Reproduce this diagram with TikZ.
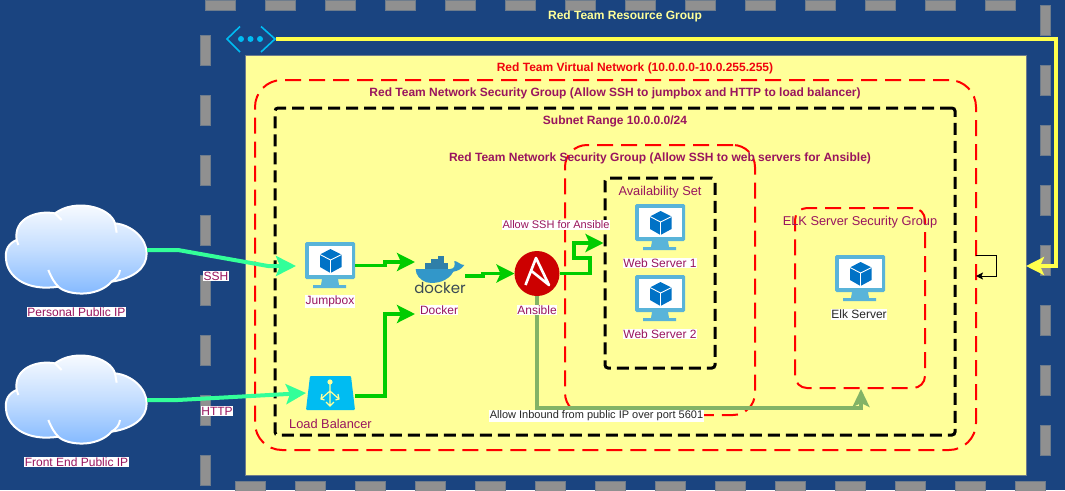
\documentclass[tikz,border=0pt]{standalone}
\usepackage{fontspec}
\setmainfont{Liberation Sans}
\newfontfamily\dockerfont{Poppins}
\usetikzlibrary{arrows.meta}
\definecolor{bgblue}{HTML}{1A4480}
\definecolor{gdash}{HTML}{909090}
\definecolor{gedge}{HTML}{6E7C8C}
\definecolor{paleY}{HTML}{FFFF99}
\definecolor{lineY}{HTML}{FFFF4D}
\definecolor{maroon}{HTML}{99155E}
\definecolor{mint}{HTML}{33FF99}
\definecolor{gr}{HTML}{00CC00}
\definecolor{olive}{HTML}{82B366}
\definecolor{azure}{HTML}{00BCF2}
\definecolor{vmframe}{HTML}{59B4D9}
\definecolor{vmcube}{HTML}{0072C6}
\definecolor{ansred}{HTML}{CC0000}
\definecolor{cloudb}{HTML}{7EB6FF}
\definecolor{whaleA}{HTML}{2F7FA8}
\definecolor{whaleB}{HTML}{3297C9}
\definecolor{dockword}{HTML}{3A4A55}
\tikzset{
  redbox/.style={draw=red,line width=2pt,dash pattern=on 16pt off 8pt,rounded corners=#1,inner sep=0pt,fill=none},
  blackbox/.style={draw=black,line width=3pt,dash pattern=on 12pt off 6pt,rounded corners=3pt,inner sep=0pt,fill=none},
  anchorbox/.style={inner sep=0pt,outer sep=0pt},
  lab/.style={font=\fontsize{12}{14}\selectfont,text=maroon,fill=white,inner xsep=.4pt,inner ysep=1pt},
  plain/.style={font=\fontsize{12.8}{14}\selectfont,text=maroon,inner sep=0pt},
  head/.style={font=\fontsize{12}{14}\selectfont\bfseries,text=maroon,inner sep=0pt},
  mintline/.style={draw=mint,line width=4pt,-{Stealth[length=20pt,width=20pt,inset=4pt]}},
  greenline/.style={draw=gr,line width=3.2pt,-{Stealth[length=18pt,width=18pt,inset=4pt]}},
  oliveline/.style={draw=olive,line width=3.6pt,-{Stealth[length=18pt,width=17pt,inset=4pt]}},
  yellowline/.style={draw=lineY,line width=4pt,-{Stealth[length=18pt,width=18pt,inset=4pt]}},
  loopline/.style={draw=black,line width=1pt,-{Stealth[length=7pt,width=7pt,inset=1.5pt]}},
}
\newcommand{\gapbar}[4]{\fill[gdash,draw=gedge,line width=.6pt] (#1,#2) rectangle (#3,#4);}
\newcommand{\vmicon}[3]{%
 \begin{scope}[shift={(#1,#2)}]
  \node[anchorbox,minimum width=50pt,minimum height=46pt] (#3) at (25,23) {};
  \fill[vmframe,rounded corners=1.5pt] (0,0) rectangle (50,37);
  \fill[white] (3.5,3.5) rectangle (46.5,33);
  \fill[vmframe] (17,37) -- (33,37) -- (34,43) -- (41,43) -- (41,46) -- (8,46) -- (8,43) -- (16,43) -- cycle;
  \fill[vmcube] (25.5,7) -- (36.5,12.5) -- (36.5,25) -- (25.5,31) -- (15,25) -- (15,12.5) -- cycle;
  \draw[white,line width=.9pt] (15,12.5) -- (25.5,18) -- (36.5,12.5) (25.5,18) -- (25.5,31);
 \end{scope}}
\newcommand{\cloudicon}[2]{%
 \begin{scope}[shift={(0,#1)},x=0.33333pt,y=-0.33333pt]
  \shadedraw[draw=white,line width=2pt,top color=white,bottom color=cloudb,middle color=cloudb!45]
   (50,150) .. controls (25,160) and (15,180) .. (18,205)
   .. controls (20,260) and (80,305) .. (175,290)
   .. controls (200,315) and (290,325) .. (335,275)
   .. controls (400,265) and (440,235) .. (440,190)
   .. controls (440,145) and (395,105) .. (345,100)
   .. controls (330,50) and (225,25) .. (165,70)
   .. controls (110,60) and (40,85) .. (50,150) -- cycle;
  \draw[white,line width=2pt] (50,150) -- (55,165) (165,70) -- (185,90) (345,100) -- (350,128)
   (145,240) .. controls (155,265) and (165,280) .. (175,290)
   (360,240) .. controls (358,255) and (350,265) .. (335,275);
 \end{scope}
 \node[anchorbox,minimum width=142pt,minimum height=90pt] (#2) at (76,{#1+60}) {};}
\begin{document}
\begin{tikzpicture}[x=1pt,y=-1pt]
\useasboundingbox (0,0) rectangle (1065,490);
\fill[bgblue] (0,0) rectangle (1065,490);
% resource group border
\foreach \a in {205,265,...,985} {\gapbar{\a}{0}{\a+30}{10}}
\foreach \a in {235,295,...,1015} {\gapbar{\a}{481}{\a+30}{495}}
\foreach \a in {35,95,...,455} {\gapbar{200}{\a}{210}{\a+30}}
\foreach \a in {5,65,...,425} {\gapbar{1040}{\a}{1050}{\a+30}}
% virtual network
\node[anchorbox,draw=gedge,line width=.8pt,fill=paleY,minimum width=781pt,minimum height=420pt] (vnetbox) at (635.5,265.5) {};
% group outlines
\node[redbox=27pt,minimum width=721pt,minimum height=370pt] (nsgouter) at (615.5,265) {};
\node[blackbox,minimum width=680pt,minimum height=327pt] (subnet) at (615,271.5) {};
\node[redbox=22pt,minimum width=190pt,minimum height=270pt] (nsgweb) at (660,280) {};
\node[blackbox,minimum width=110pt,minimum height=190pt] (avail) at (660,273) {};
\node[redbox=12pt,minimum width=130pt,minimum height=180pt] (nsgelk) at (860,298) {};
% vnet icon
\node[anchorbox,minimum width=50pt,minimum height=26pt] (vnet) at (250.5,39) {};
\draw[azure,line width=1.6pt] (240,26.5) -- (227,39) -- (240,52) (261,26.5) -- (275,39) -- (261,52);
\foreach \a in {241,250.5,260} {\fill[azure] (\a,39) circle (3pt);}
% clouds
\cloudicon{190}{cloudA}
\cloudicon{340}{cloudB}
% icons
\vmicon{305}{242}{jump}
\vmicon{635}{204}{webA}
\vmicon{635}{275}{webB}
\vmicon{835}{255}{elk}
% load balancer
\node[anchorbox,minimum width=49pt,minimum height=34pt] (lb) at (330.5,393) {};
\fill[azure,rounded corners=1pt] (310,376) -- (351,376) -- (355,410) -- (306,410) -- cycle;
\fill[paleY] (330,382) circle (2.6pt);
\draw[paleY,line width=1.2pt] (330,382) -- (330,406) (330,391) -- (321,399) (330,391) -- (339,399)
  (324.5,400) -- (321,399) -- (322,394) (335.5,400) -- (339,399) -- (338,394)
  (326,402) -- (330,406) -- (334,402);
% docker icon
\node[anchorbox,minimum width=50pt,minimum height=41pt] (docker) at (440,275.5) {};
\begin{scope}[shift={(405,245)},x=0.33333pt,y=-0.33333pt]
  \fill[whaleA] (60,55) rectangle (130,72);
  \fill[whaleA] (98,32) rectangle (116,55);
  \fill[whaleA] (78,42) rectangle (98,55);
  \fill[whaleB] (32,72) -- (135,72) .. controls (150,72) and (150,60) .. (148,48)
     .. controls (158,48) and (165,60) .. (178,60)
     .. controls (168,75) and (155,78) .. (145,80)
     .. controls (130,108) and (95,118) .. (65,112)
     .. controls (45,105) and (32,90) .. (32,72) -- cycle;
\end{scope}
\node[anchorbox,font=\dockerfont\fontsize{15}{17}\selectfont,text=dockword] (dockerword) at (440,288.5) {docker};
% ansible
\node[circle,fill=ansred,minimum size=45pt,inner sep=0pt,outer sep=0pt] (ans) at (537,273.5) {};
\draw[white,line width=2.6pt,line join=round] (525.5,285) -- (536,258) -- (549,285) -- (531.5,271);
% connectors
\coordinate (e1) at (178,250);
\coordinate (e2) at (268,266);
\coordinate (e3) at (178,400);
\draw[mintline,shorten >=9pt] (cloudA.east) -- (e1) -- (e2) -- (jump.west |- e2);
\draw[mintline] (cloudB.east) -- (e3) -- (lb.west);
\coordinate (j1) at (385,265.5);
\coordinate (j2) at (385,262);
\coordinate (dockW) at (415,262);
\draw[greenline] (jump.east |- j1) -- (j1) -- (j2) -- (dockW);
\coordinate (l1) at (385,396);
\coordinate (l2) at (385,314);
\coordinate (dockX) at (415,314);
\draw[greenline] (lb.east |- l1) -- (l1) -- (l2) -- (dockX);
\coordinate (d1) at (465,276);
\coordinate (d2) at (483,276);
\coordinate (d3) at (483,273.5);
\draw[greenline] (d1) -- (d2) -- (d3) -- (ans.west);
\coordinate (a1) at (590,273.5);
\coordinate (a2) at (590,258);
\coordinate (a3) at (574,258);
\coordinate (a4) at (574,243);
\draw[greenline] (ans.east) -- (a1) -- (a2) -- (a3) -- (a4) -- (avail.west |- a4);
\coordinate (o1) at (537,408);
\coordinate (o2) at (861,408);
\draw[oliveline] (ans.south) -- (o1) -- (o2) -- (nsgelk.south -| o2);
\coordinate (y1) at (1056,39);
\coordinate (y2) at (1056,266);
\draw[yellowline] (vnet.east) -- (y1) -- (y2) -- (vnetbox.east |- y2);
\coordinate (k0) at (976,255);
\coordinate (k1) at (996,255);
\coordinate (k2) at (996,276);
\coordinate (k3) at (976,276);
\draw[loopline] (k0) -- (k1) -- (k2) -- (k3);
% texts
\node[anchorbox,font=\fontsize{12}{14}\selectfont\bfseries,text=paleY] (t1) at (625,16) {Red Team Resource Group};
\node[head,text=red!85!maroon] (t2) at (635,68) {Red Team Virtual Network (10.0.0.0-10.0.255.255)};
\node[head] (t3) at (615,93) {Red Team Network Security Group (Allow SSH to jumpbox and HTTP to load balancer)};
\node[head] (t4) at (615,121) {Subnet Range 10.0.0.0/24};
\node[head] (t5) at (660,158) {Red Team Network Security Group (Allow SSH to web servers for Ansible)};
\node[plain] (t6) at (660,192) {Availability Set};
\node[plain] (t7) at (860,222) {ELK Server Security Group};
\node[lab] (t8) at (216,276) {SSH};
\node[lab] (t9) at (217,411) {HTTP};
\node[lab] (t10) at (76.5,312) {Personal Public IP};
\node[lab] (t11) at (76.5,462) {Front End Public IP};
\node[lab] (t12) at (330,301.5) {Jumpbox};
\node[plain] (t13) at (330.5,423.5) {Load Balancer};
\node[lab] (t14) at (439,310) {Docker};
\node[lab] (t15) at (537,310) {Ansible};
\node[lab] (t16) at (660,263) {Web Server 1};
\node[lab] (t17) at (660,334) {Web Server 2};
\node[lab,font=\fontsize{11}{13}\selectfont] (t18) at (556,225) {Allow SSH for Ansible};
\node[lab,text=black!85,font=\fontsize{11}{13}\selectfont] (t19) at (596.5,416) {Allow Inbound from public IP over port 5601};
\node[lab,text=black!85] (t20) at (859,314.5) {Elk Server};
\end{tikzpicture}
\end{document}
